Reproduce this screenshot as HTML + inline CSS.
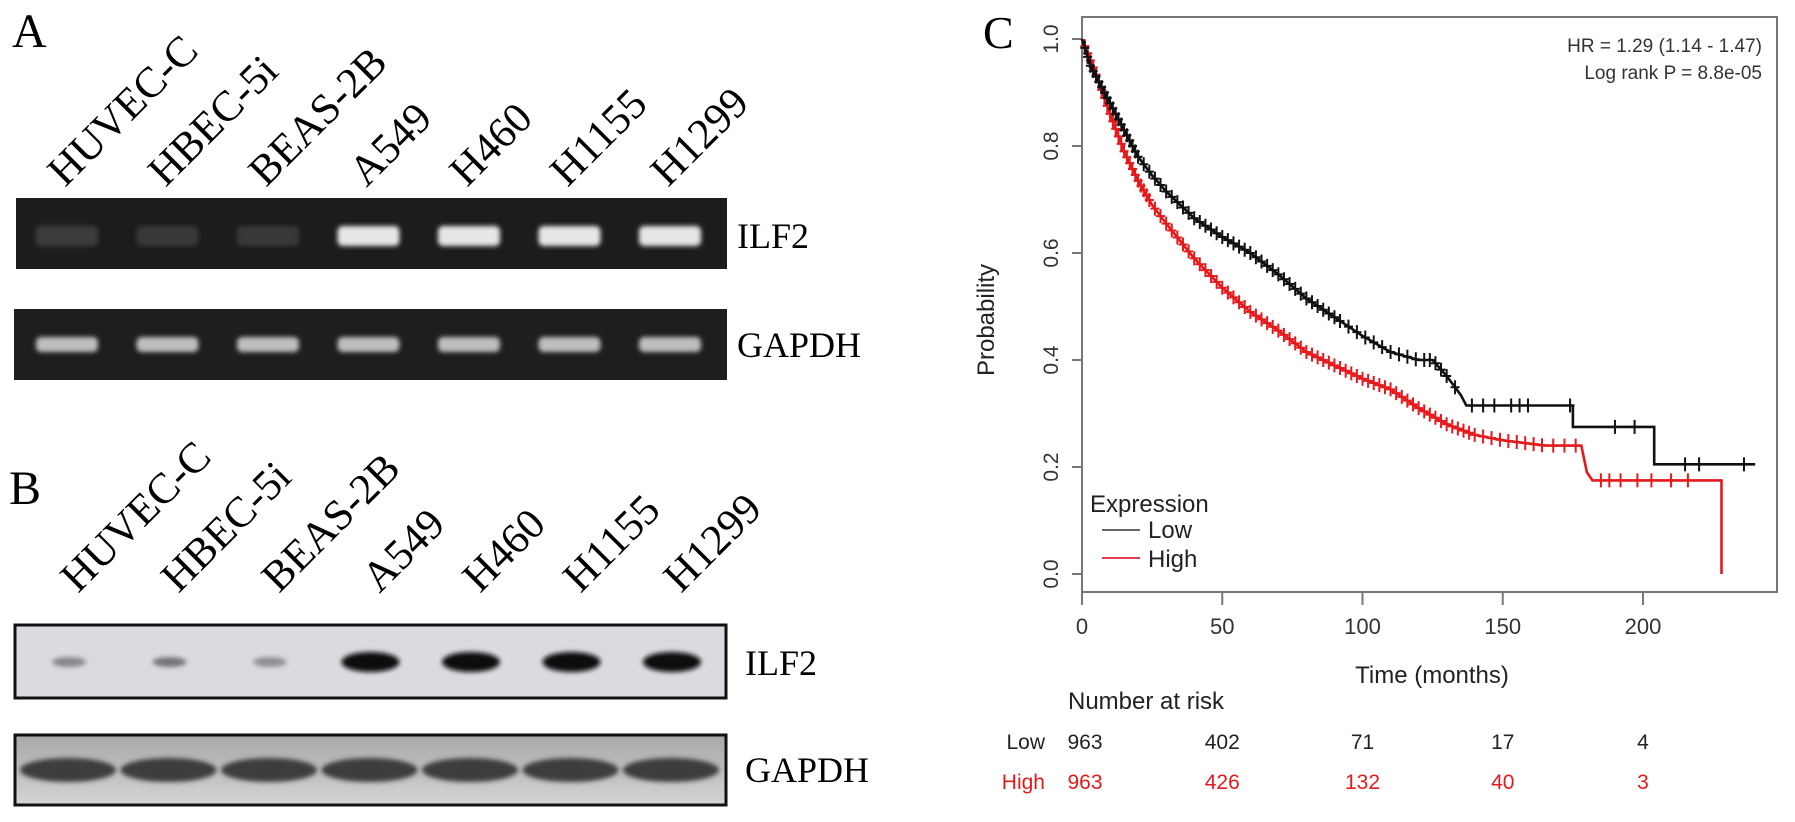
<!DOCTYPE html>
<html><head><meta charset="utf-8"><style>
html,body{margin:0;padding:0;background:#fff;}
svg{display:block;}
.serif{font-family:"Liberation Serif",serif;}
.sans{font-family:"Liberation Sans","DejaVu Sans",sans-serif;}
</style></head><body>
<svg id="fig" width="1795" height="822" viewBox="0 0 1795 822" xmlns="http://www.w3.org/2000/svg">
<defs>
<filter id="b2" x="-30%" y="-80%" width="160%" height="260%"><feGaussianBlur stdDeviation="2.5"/></filter>
<linearGradient id="wb2" x1="0" y1="0" x2="0" y2="1"><stop offset="0" stop-color="#a9a9ab"/><stop offset="0.5" stop-color="#bdbdbf"/><stop offset="1" stop-color="#d6d6d8"/></linearGradient>
</defs>
<g id="panelA"></g>
<g id="panelB"></g>
<g id="panelC"></g>
</svg>
<script>
// ---- data ----
const cellLines = ["HUVEC-C","HBEC-5i","BEAS-2B","A549","H460","H1155","H1299"];
const pcrIlf2 = [0.1,0.08,0.08,0.95,0.95,0.95,0.95];
const pcrGapdh = [0.75,0.75,0.75,0.75,0.75,0.75,0.75];
const wbIlf2 = [0.35,0.45,0.3,1,1,1,1];
const wbGapdh = [0.85,0.85,0.85,0.85,0.85,0.85,0.85];

const lowTime = [0,3,6,10,15,20,25,30,40,50,60,70,80,90,100,110,120,125,130,135,137,175,175,204,204,240];
const lowProb = [1.0,0.95,0.92,0.88,0.83,0.78,0.745,0.715,0.665,0.63,0.6,0.56,0.515,0.48,0.445,0.415,0.40,0.40,0.37,0.335,0.315,0.315,0.275,0.275,0.205,0.205];
const highTime = [0,3,6,10,15,20,25,30,40,50,60,70,80,90,100,110,120,130,140,150,165,178,180,182,228,228];
const highProb = [1.0,0.96,0.92,0.86,0.79,0.735,0.69,0.655,0.59,0.535,0.49,0.455,0.415,0.39,0.365,0.345,0.31,0.28,0.26,0.25,0.24,0.24,0.19,0.175,0.175,0.0];
const lowCensor = [1,2,3,4,5,6,7,8,9,10,11,12,13,14,15,16,17,18,19,20,22,24,26,28,30,32,34,36,38,40,42,44,46,48,50,52,54,56,58,60,62,64,66,68,70,72,74,76,78,80,82,84,86,88,90,92,95,98,101,104,107,110,113,116,119,122,124,126,128,130,133,139,143,147,153,156,159,174,190,197,215,220,236];
const highCensor = [1,2,3,4,5,6,7,8,9,10,11,12,13,14,15,16,17,18,19,20,21,22,23,24,26,28,30,32,34,36,38,40,42,44,46,48,50,52,54,56,58,60,62,64,66,68,70,72,74,76,78,80,82,84,86,88,90,92,94,96,98,100,102,104,106,108,110,112,114,116,118,120,122,124,126,128,130,132,134,136,138,140,143,146,149,152,155,158,161,164,168,172,176,185,188,192,198,203,210,216];
const xTicks = [0,50,100,150,200];
const yTicks = [0.0,0.2,0.4,0.6,0.8,1.0];
const yTickLabels = ["0.0","0.2","0.4","0.6","0.8","1.0"];
const riskTimes = [0,50,100,150,200];
const riskLow = [963,402,71,17,4];
const riskHigh = [963,426,132,40,3];

const NS="http://www.w3.org/2000/svg";
function mk(parent,tag,attrs,text){const e=document.createElementNS(NS,tag);for(const k in attrs)e.setAttribute(k,attrs[k]);if(text!==undefined)e.textContent=text;parent.appendChild(e);return e;}
const laneX = i => 67 + i*100.5;

// ---- Panel A ----
const A=document.getElementById('panelA');
let t=mk(A,'text',{x:12,y:47,'font-size':48,class:'serif'},'A');


cellLines.forEach((n,i)=>{const x=laneX(i)-2,y=188;
 const e=mk(A,'text',{x:x,y:y,'font-size':43,class:'serif',transform:`rotate(-45 ${x} ${y})`},n);
 
 });
let g=mk(A,'rect',{x:16,y:198,width:711,height:71,fill:'#1c1c1c'});


pcrIlf2.forEach((v,i)=>{const c=Math.round(40+v*200);
 const b=mk(A,'rect',{x:laneX(i)-31,y:226,width:62,height:20,rx:5,fill:`rgb(${c},${c},${c})`,filter:'url(#b2)'});
 
 });
g=mk(A,'rect',{x:14,y:309,width:713,height:71,fill:'#1e1e1e'});


pcrGapdh.forEach((v,i)=>{const c=Math.round(40+v*200);
 const b=mk(A,'rect',{x:laneX(i)-31,y:337,width:62,height:15,rx:5,fill:`rgb(${c},${c},${c})`,filter:'url(#b2)'});
 
 });
t=mk(A,'text',{x:737,y:248,'font-size':36,class:'serif'},'ILF2');


t=mk(A,'text',{x:737,y:357,'font-size':36,class:'serif'},'GAPDH');



// ---- Panel B ----
const B=document.getElementById('panelB');
t=mk(B,'text',{x:9,y:504,'font-size':48,class:'serif'},'B');


cellLines.forEach((n,i)=>{const x=laneX(i)+11,y=594;
 const e=mk(B,'text',{x:x,y:y,'font-size':43,class:'serif',transform:`rotate(-45 ${x} ${y})`},n);
 
 });
g=mk(B,'rect',{x:15,y:625,width:711,height:73,fill:'#dadae0',stroke:'#111',"stroke-width":3});


wbIlf2.forEach((v,i)=>{const c=Math.round(200-v*190);const w=v>0.5?58:34;
 const b=mk(B,'ellipse',{cx:laneX(i)+2,cy:662,rx:w/2,ry:v>0.5?10:5,fill:`rgb(${c},${c},${c+4})`,filter:'url(#b2)'});
 
 });
g=mk(B,'rect',{x:15,y:735,width:711,height:70,fill:'url(#wb2)',stroke:'#111',"stroke-width":3});


wbGapdh.forEach((v,i)=>{const c=Math.round(230-v*200);
 const b=mk(B,'ellipse',{cx:laneX(i)+1,cy:770,rx:48,ry:12,fill:`rgb(${c},${c},${c})`,filter:'url(#b2)'});
 
 });
t=mk(B,'text',{x:745,y:675,'font-size':36,class:'serif'},'ILF2');


t=mk(B,'text',{x:745,y:782,'font-size':36,class:'serif'},'GAPDH');



// ---- Panel C ----
const C=document.getElementById('panelC');
const X0=1082, PXM=2.805, Y0=574, PXP=535;
const sx=m=>X0+m*PXM, sy=p=>Y0-p*PXP;
t=mk(C,'text',{x:983,y:48,'font-size':46,class:'serif'},'C');


g=mk(C,'rect',{x:1082,y:17,width:695,height:575,fill:'none',stroke:'#777','stroke-width':2});


yTicks.forEach((v,i)=>{const y=sy(v);
 const l=mk(C,'line',{x1:1072,y1:y,x2:1082,y2:y,stroke:'#777','stroke-width':2});
 
 
 const e=mk(C,'text',{x:1058,y:y,'font-size':21,class:'sans',fill:'#333','text-anchor':'middle',transform:`rotate(-90 1058 ${y})`},yTickLabels[i]);
 
 });
xTicks.forEach(v=>{const x=sx(v);
 const l=mk(C,'line',{x1:x,y1:592,x2:x,y2:605,stroke:'#777','stroke-width':2});
 
 
 const e=mk(C,'text',{x:x,y:634,'font-size':22,class:'sans',fill:'#333','text-anchor':'middle'},String(v));
 
 });
t=mk(C,'text',{x:994,y:320,'font-size':24,class:'sans',fill:'#222','text-anchor':'middle',transform:'rotate(-90 994 320)'},'Probability');


t=mk(C,'text',{x:1432,y:683,'font-size':24,class:'sans',fill:'#222','text-anchor':'middle'},'Time (months)');


t=mk(C,'text',{x:1762,y:52,'font-size':19,class:'sans',fill:'#333','text-anchor':'end'},'HR = 1.29 (1.14 - 1.47)');


t=mk(C,'text',{x:1762,y:79,'font-size':19,class:'sans',fill:'#333','text-anchor':'end'},'Log rank P = 8.8e-05');



function probAt(times,probs,m){let p=probs[0];for(let i=0;i<times.length;i++){if(times[i]<=m)p=probs[i];else{const t0=times[i-1],t1=times[i];p=probs[i-1]+(probs[i]-probs[i-1])*(m-t0)/(t1-t0);break;}}return p;}
function drawSeries(times,probs,cens,color,name){
 const d=times.map((m,i)=>(i?'L':'M')+sx(m).toFixed(1)+' '+sy(probs[i]).toFixed(1)).join(' ');
 const p=mk(C,'path',{d:d,fill:'none',stroke:color,'stroke-width':2.6});
 
 
 cens.forEach(m=>{if(m>times[times.length-1])return;const x=sx(m),y=sy(probAt(times,probs,m));
  const c=mk(C,'path',{d:`M${x-4.5} ${y} L${x+4.5} ${y} M${x} ${y-7} L${x} ${y+7}`,stroke:color,'stroke-width':2,fill:'none'});
  
  });
}
drawSeries(highTime,highProb,highCensor,'#e41a1c','high');
drawSeries(lowTime,lowProb,lowCensor,'#111','low');

t=mk(C,'text',{x:1090,y:512,'font-size':24,class:'sans',fill:'#222'},'Expression');


let l=mk(C,'line',{x1:1102,y1:530,x2:1140,y2:530,stroke:'#666','stroke-width':2});


t=mk(C,'text',{x:1148,y:538,'font-size':24,class:'sans',fill:'#222'},'Low');


l=mk(C,'line',{x1:1102,y1:558,x2:1140,y2:558,stroke:'#e04050','stroke-width':2});


t=mk(C,'text',{x:1148,y:567,'font-size':24,class:'sans',fill:'#222'},'High');



t=mk(C,'text',{x:1068,y:709,'font-size':24,class:'sans',fill:'#222'},'Number at risk');


t=mk(C,'text',{x:1045,y:749,'font-size':21,class:'sans',fill:'#222','text-anchor':'end'},'Low');


t=mk(C,'text',{x:1045,y:789,'font-size':21,class:'sans',fill:'#e41a1c','text-anchor':'end'},'High');


riskTimes.forEach((m,i)=>{
 const a=mk(C,'text',{x:sx(m)+(i?0:3),y:749,'font-size':21,class:'sans',fill:'#222','text-anchor':'middle'},String(riskLow[i]));
 
 
 const b=mk(C,'text',{x:sx(m)+(i?0:3),y:789,'font-size':21,class:'sans',fill:'#e41a1c','text-anchor':'middle'},String(riskHigh[i]));
 
 });
</script>
</body></html>
